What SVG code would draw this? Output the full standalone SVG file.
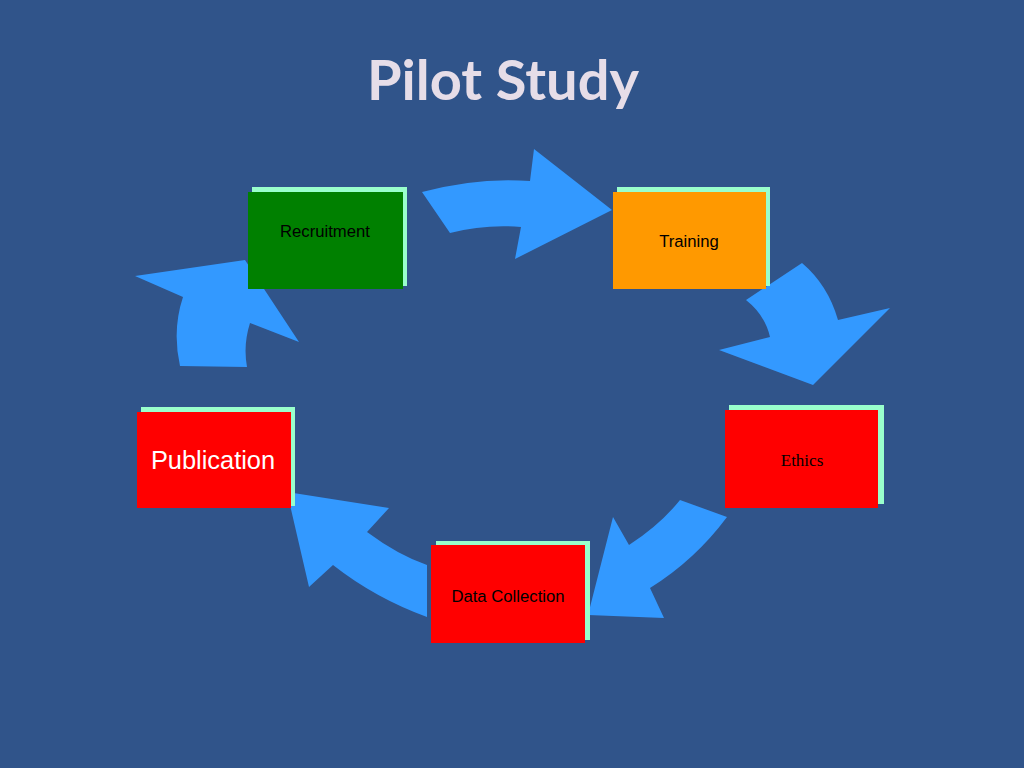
<svg xmlns="http://www.w3.org/2000/svg" width="1024" height="768" viewBox="0 0 1024 768">
<style>
.bg{fill:#30548A}
.arr{fill:#3399FF}
.sh{fill:#99FFCC}
.lbl{font-family:"Liberation Sans",Arial,sans-serif;font-size:16.7px;fill:#000;text-anchor:middle}
</style>
<rect class="bg" x="0" y="0" width="1024" height="768"/>
<text x="503" y="100" font-family="Lato,'Open Sans',sans-serif" font-weight="bold" font-size="56" fill="#E6DDE8" text-anchor="middle">Pilot Study</text>
<g id="connectors">
<path class="arr" d="M422,192 Q478,177 530,181 L534,149 L612,210 L515,259 L521,227 Q485,224 450,233 Z"/>
<path class="arr" d="M746,300 L802,263 Q828,285 838,320 L890,308 L813,385 L719,350 L770,337 Q765,315 746,300 Z"/>
<path class="arr" d="M680,500 L727,517 Q695,560 650,588 L664,618 L588,615 L613,517 L629,545 Q660,525 680,500 Z"/>
<path class="arr" d="M287,492 L389,508 L367,532 Q398,555 427,565 L427,617 Q375,598 333,565 L309,587 Z"/>
<path class="arr" d="M245,260 L299,342 L250,323 Q243,345 247,367 L180,366 Q172,330 183,297 L135,276 Z"/>
</g>
<g id="recruitment">
<rect class="sh" x="252" y="187" width="155" height="99"/>
<rect x="248" y="192" width="155" height="97" fill="#008000"/>
<text class="lbl" x="325" y="237">Recruitment</text>
</g>
<g id="training">
<rect class="sh" x="617" y="187" width="153" height="99"/>
<rect x="613" y="192" width="153" height="97" fill="#FF9900"/>
<text class="lbl" x="689" y="247">Training</text>
</g>
<g id="ethics">
<rect class="sh" x="729" y="405" width="155" height="99"/>
<rect x="725" y="410" width="153" height="98" fill="#FF0000"/>
<text x="802" y="466" font-family="'Liberation Serif','Times New Roman',serif" font-size="17" fill="#000" text-anchor="middle">Ethics</text>
</g>
<g id="publication">
<rect class="sh" x="141" y="407" width="154" height="99"/>
<rect x="137" y="412" width="154" height="96" fill="#FF0000"/>
<text x="213" y="469" font-family="'Liberation Sans',Arial,sans-serif" font-size="25.4" fill="#FFFFFF" text-anchor="middle">Publication</text>
</g>
<g id="data-collection">
<rect class="sh" x="436" y="541" width="154" height="99"/>
<rect x="431" y="545" width="154" height="98" fill="#FF0000"/>
<text class="lbl" x="508" y="602">Data Collection</text>
</g>
</svg>
